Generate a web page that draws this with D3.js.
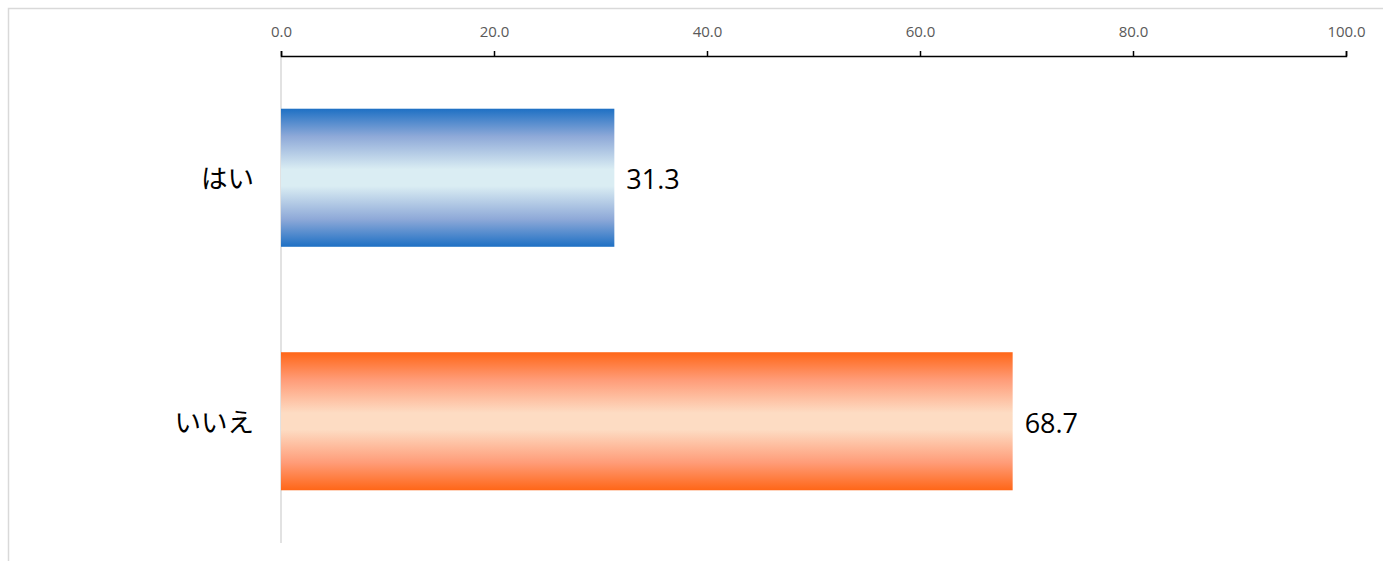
<!DOCTYPE html>
<html><head><meta charset="utf-8">
<script src="https://cdn.jsdelivr.net/npm/d3@7"></script>
<style>body{margin:0;background:#fff;} svg{display:block;}</style>
</head><body>
<svg id="chart" width="1383" height="561"></svg>
<script>
const categories = ["はい", "いいえ"];
const values = [31.3, 68.7];
const tickValues = [0, 20, 40, 60, 80, 100];
const edgeColors = ["#1E70C4", "#FF6617"];
const halfColors = ["#8EA9D8", "#FF9C78"];
const midColors = ["#DAEDF3", "#FDDCC3"];

const svg = d3.select("#chart");
const W = 1383, H = 561;
const m = {left: 281, right: 37, top: 56, bottom: 18};

// chart frame
svg.append("rect").attr("x", 8.5).attr("y", 8.5).attr("width", W + 20).attr("height", H + 20)
  .attr("fill", "#fff").attr("stroke", "#d9d9d9").attr("stroke-width", 1.5);

const x = d3.scaleLinear().domain([0, 100]).range([m.left, W - m.right]);
const y = d3.scaleBand().domain(categories).range([m.top, H - m.bottom]).paddingInner(0.433).paddingOuter(0.2165);

const defs = svg.append("defs");
categories.forEach((c, i) => {
  const g = defs.append("linearGradient").attr("id", "grad" + i)
    .attr("x1", 0).attr("y1", 0).attr("x2", 0).attr("y2", 1);
  [[0, edgeColors[i]], [0.2, halfColors[i]], [0.44, midColors[i]], [0.56, midColors[i]],
   [0.8, halfColors[i]], [1, edgeColors[i]]].forEach(([o, c]) =>
    g.append("stop").attr("offset", o).attr("stop-color", c));
});

// vertical category axis line
svg.append("line").attr("x1", x(0)).attr("x2", x(0)).attr("y1", m.top).attr("y2", H - m.bottom)
  .attr("stroke", "#d9d9d9").attr("stroke-width", 1.5);

svg.selectAll("rect.bar").data(values).enter().append("rect").attr("class", "bar")
  .attr("x", x(0)).attr("y", (d, i) => y(categories[i]))
  .attr("width", d => x(d) - x(0)).attr("height", y.bandwidth())
  .attr("fill", (d, i) => `url(#grad${i})`);

svg.selectAll("text.val").data(values).enter().append("text").attr("class", "val")
  .attr("x", d => x(d) + 12).attr("y", (d, i) => y(categories[i]) + y.bandwidth() / 2 + 2)
  .attr("dy", "0.35em").attr("font-family", "'Open Sans', 'Noto Sans', sans-serif")
  .attr("font-size", 27).attr("fill", "#000").text(d => d.toFixed(1));

svg.selectAll("text.cat").data(categories).enter().append("text").attr("class", "cat")
  .attr("x", x(0) - 27).attr("y", d => y(d) + y.bandwidth() / 2 + 1)
  .attr("dy", "0.35em").attr("text-anchor", "end")
  .attr("font-family", "'Noto Sans CJK JP', sans-serif").attr("font-size", 26.5).attr("fill", "#000")
  .text(d => d);

const axis = d3.axisTop(x).tickValues(tickValues).tickSize(5).tickSizeOuter(5).tickPadding(14)
  .tickFormat(d3.format(".1f"));
const ga = svg.append("g").attr("transform", `translate(0,${m.top})`).call(axis);
ga.select(".domain").attr("stroke", "#000").attr("stroke-width", 1.5);
ga.selectAll(".tick line").attr("stroke", "#000").attr("stroke-width", 1.5);
ga.selectAll(".tick text").attr("fill", "#595959").attr("font-size", 15)
  .attr("font-family", "'Open Sans', 'Noto Sans', sans-serif");
</script>
</body></html>
